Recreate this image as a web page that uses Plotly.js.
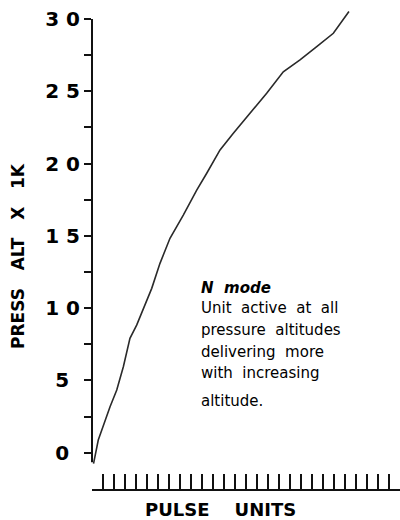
<!DOCTYPE html>
<html>
<head>
<meta charset="utf-8">
<script src="https://cdn.plot.ly/plotly-3.0.1.min.js"></script>
<style>
  html, body { margin: 0; padding: 0; background: #fff; }
  #chart { width: 400px; height: 520px; }
</style>
</head>
<body>
<div id="chart"></div>
<script>
// ---- data ----
const pulseUnits = [0.14, 0.57, 1.64, 2.25, 2.85, 3.45, 4.06, 4.97, 5.43, 6.18, 7.09, 8.30, 9.52, 10.43, 11.64, 12.85, 14.66, 15.88, 17.39, 18.91, 20.43, 21.94, 23.36];
const pressAlt   = [-0.75, 0.88, 3.18, 4.34, 5.95, 7.91, 8.83, 10.56, 11.37, 13.10, 14.83, 16.44, 18.17, 19.33, 20.94, 22.09, 23.70, 24.86, 26.35, 27.17, 28.08, 29.01, 30.52];

const NB = '\u00a0';
const yTickVals = [0, 2.5, 5, 7.5, 10, 12.5, 15, 17.5, 20, 22.5, 25, 27.5, 30];
const yTickText = ['0' + NB + '\u2009', '', '5' + NB + '\u2009', '', '1' + NB + '0', '', '1' + NB + '5', '', '2' + NB + '0', '', '2' + NB + '5', '', '3' + NB + '0'];
const xTickVals = [0, 1, 2, 3, 4, 5, 6, 7, 8, 9, 10, 11, 12, 13, 14, 15, 16, 17, 18, 19, 20, 21, 22, 23, 24, 25, 26, 27];

const yTitle = 'PRESS' + NB.repeat(3) + 'ALT' + NB.repeat(3) + 'X' + NB.repeat(3) + '1K';
const xTitle = 'PULSE' + NB.repeat(4) + 'UNITS';
const noteTitle = 'N' + NB + NB + 'mode';
const noteLines = ['Unit' + NB + NB + 'active' + NB + NB + 'at' + NB + NB + 'all',
                   'pressure' + NB + NB + 'altitudes',
                   'delivering' + NB + NB + 'more',
                   'with' + NB + NB + 'increasing',
                   'altitude.'];

// ---- layout geometry ----
const W = 400, H = 520;
const M = { l: 92, r: 0, t: 10, b: 30 };
const PW = W - M.l - M.r, PH = H - M.t - M.b;
const px = x => (x - M.l) / PW;
const py = y => (H - M.b - y) / PH;

const noteY = [313, 335, 357, 378, 406];
const annotations = [
  { text: yTitle, textangle: -90, x: px(18), y: py(256), xref: 'paper', yref: 'paper',
    xanchor: 'center', yanchor: 'middle', showarrow: false,
    font: { family: 'DejaVu Sans', size: 17, color: '#000', weight: 'bold' } },
  { text: '<b>' + xTitle + '</b>', x: px(220), y: py(509.5), xref: 'paper', yref: 'paper',
    xanchor: 'center', yanchor: 'middle', showarrow: false, borderpad: 0,
    font: { family: 'DejaVu Sans', size: 18, color: '#000' } },
  { text: '<b><i>' + noteTitle + '</i></b>', x: px(199), y: py(288), xref: 'paper', yref: 'paper',
    xanchor: 'left', yanchor: 'middle', showarrow: false,
    font: { family: 'DejaVu Sans', size: 15, color: '#000' } }
];
noteLines.forEach((t, i) => annotations.push({
  text: t, x: px(199), y: py(noteY[i] - 5), xref: 'paper', yref: 'paper',
  xanchor: 'left', yanchor: 'middle', showarrow: false,
  font: { family: 'DejaVu Sans', size: 15, color: '#000' }
}));

const trace = {
  x: pulseUnits, y: pressAlt, type: 'scatter', mode: 'lines',
  line: { color: '#2a2a2a', width: 1.6 }, hoverinfo: 'skip'
};

const layout = {
  width: W, height: H,
  margin: M,
  paper_bgcolor: '#fff', plot_bgcolor: '#fff',
  showlegend: false,
  xaxis: {
    range: [0, 28], anchor: 'free', position: 0,
    showgrid: false, zeroline: false,
    showline: true, linecolor: '#111', linewidth: 2,
    ticks: 'inside', tickmode: 'array', tickvals: xTickVals, ticklen: 15, tickwidth: 2, tickcolor: '#111',
    showticklabels: false
  },
  yaxis: {
    range: [-0.8, 30.62], domain: [0.0535, 1],
    showgrid: false, zeroline: false, showline: false,
    ticks: 'outside', tickmode: 'array', tickvals: yTickVals, ticktext: yTickText,
    ticklen: 7, tickwidth: 2, tickcolor: '#111',
    tickfont: { family: 'DejaVu Sans', size: 20, color: '#000', weight: 'bold' }
  },
  shapes: [
    { type: 'line', xref: 'paper', yref: 'y', x0: 0, x1: 0, y0: -0.65, y1: 30,
      line: { color: '#111', width: 2 } }
  ],
  annotations: annotations
};

Plotly.newPlot('chart', [trace], layout, { staticPlot: true, displayModeBar: false });
</script>
</body>
</html>
